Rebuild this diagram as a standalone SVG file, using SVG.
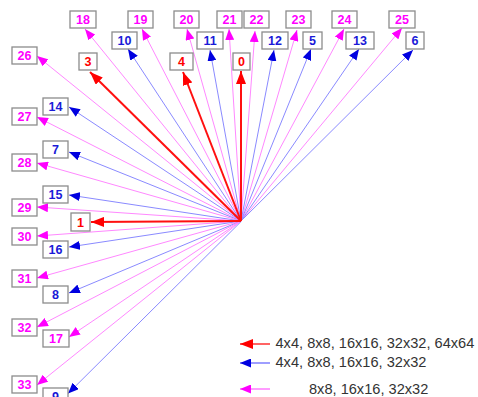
<svg xmlns="http://www.w3.org/2000/svg" width="478" height="397" viewBox="0 0 478 397">
<style>
.bx{fill:#fff;stroke:#8c8c8c;stroke-width:1.3}
.t{font-family:"Liberation Sans",Arial,sans-serif;font-size:12.5px;font-weight:bold;text-anchor:middle}
.m{fill:#ff00ff}.b{fill:#1a1ad8}.r{fill:#ff0000}
.lr{stroke:#ff1010;stroke-width:2;fill:none;marker-end:url(#ar)}
.lb{stroke:#8a8aff;stroke-width:1;fill:none;marker-end:url(#ab)}
.lm{stroke:#ff88ff;stroke-width:1;fill:none;marker-end:url(#am)}
.lg{font-family:"Liberation Sans",Arial,sans-serif;font-size:14.6px;fill:#333}
</style>
<defs>
<marker id="ar" markerUnits="userSpaceOnUse" markerWidth="13" markerHeight="10" refX="13" refY="5" orient="auto"><path d="M0,0L13,5L0,10z" fill="#ff0000"/></marker>
<marker id="ab" markerUnits="userSpaceOnUse" markerWidth="11" markerHeight="9" refX="11" refY="4.5" orient="auto"><path d="M0,0L11,4.5L0,9z" fill="#0000e0"/></marker>
<marker id="am" markerUnits="userSpaceOnUse" markerWidth="11" markerHeight="9" refX="11" refY="4.5" orient="auto"><path d="M0,0L11,4.5L0,9z" fill="#ff00ff"/></marker>
</defs>
<g id="connectors">
<line class="lm" x1="241" y1="221" x2="85" y2="29"/>
<line class="lm" x1="241" y1="221" x2="142" y2="29"/>
<line class="lm" x1="241" y1="221" x2="187" y2="29"/>
<line class="lm" x1="241" y1="221" x2="229" y2="29"/>
<line class="lm" x1="241" y1="221" x2="255" y2="31"/>
<line class="lm" x1="241" y1="221" x2="297" y2="30"/>
<line class="lm" x1="241" y1="221" x2="344" y2="29"/>
<line class="lm" x1="241" y1="221" x2="402" y2="28"/>
<line class="lb" x1="241" y1="221" x2="128" y2="49"/>
<line class="lb" x1="241" y1="221" x2="210" y2="50"/>
<line class="lb" x1="241" y1="221" x2="274" y2="50"/>
<line class="lb" x1="241" y1="221" x2="311" y2="49"/>
<line class="lb" x1="241" y1="221" x2="359" y2="49"/>
<line class="lb" x1="241" y1="221" x2="413" y2="50"/>
<line class="lm" x1="241" y1="221" x2="37" y2="56"/>
<line class="lb" x1="241" y1="221" x2="69" y2="107"/>
<line class="lm" x1="241" y1="221" x2="37" y2="117"/>
<line class="lb" x1="241" y1="221" x2="69" y2="152"/>
<line class="lm" x1="241" y1="221" x2="37" y2="163"/>
<line class="lb" x1="241" y1="221" x2="69" y2="195"/>
<line class="lm" x1="241" y1="221" x2="37" y2="207"/>
<line class="lm" x1="241" y1="221" x2="37" y2="236"/>
<line class="lb" x1="241" y1="221" x2="69" y2="247"/>
<line class="lm" x1="241" y1="221" x2="37" y2="278"/>
<line class="lb" x1="241" y1="221" x2="69" y2="293"/>
<line class="lm" x1="241" y1="221" x2="37" y2="327"/>
<line class="lm" x1="241" y1="221" x2="69" y2="337"/>
<line class="lm" x1="241" y1="221" x2="37" y2="385"/>
<line class="lb" x1="241.6" y1="221" x2="68" y2="393.6"/>
<line class="lr" x1="241" y1="221" x2="90" y2="72"/>
<line class="lr" x1="241" y1="221" x2="183" y2="72"/>
<line class="lr" x1="241" y1="221" x2="241" y2="71"/>
<line class="lr" x1="241" y1="221" x2="91" y2="222"/>
</g>
<g id="n18"><rect class="bx" x="70" y="11" width="26" height="17"/><text class="t m" x="83" y="24">18</text></g>
<g id="n19"><rect class="bx" x="128" y="11" width="25" height="17"/><text class="t m" x="140.5" y="24">19</text></g>
<g id="n20"><rect class="bx" x="174" y="11" width="25" height="17"/><text class="t m" x="186.5" y="24">20</text></g>
<g id="n21"><rect class="bx" x="217" y="11" width="25" height="17"/><text class="t m" x="229.5" y="24">21</text></g>
<g id="n22"><rect class="bx" x="244" y="11" width="25" height="17"/><text class="t m" x="256.5" y="24">22</text></g>
<g id="n23"><rect class="bx" x="286" y="11" width="25" height="17"/><text class="t m" x="298.5" y="24">23</text></g>
<g id="n24"><rect class="bx" x="332" y="11" width="25" height="17"/><text class="t m" x="344.5" y="24">24</text></g>
<g id="n25"><rect class="bx" x="389" y="11" width="26" height="17"/><text class="t m" x="402" y="24">25</text></g>
<g id="n10"><rect class="bx" x="112" y="32" width="25" height="17"/><text class="t b" x="124.5" y="45">10</text></g>
<g id="n11"><rect class="bx" x="197" y="32" width="26" height="17"/><text class="t b" x="210" y="45">11</text></g>
<g id="n12"><rect class="bx" x="262" y="32" width="26" height="17"/><text class="t b" x="275" y="45">12</text></g>
<g id="n5"><rect class="bx" x="303" y="32" width="19" height="17"/><text class="t b" x="312.5" y="45">5</text></g>
<g id="n13"><rect class="bx" x="346" y="32" width="28" height="17"/><text class="t b" x="360" y="45">13</text></g>
<g id="n6"><rect class="bx" x="406" y="32" width="18" height="17"/><text class="t b" x="415" y="45">6</text></g>
<g id="n3"><rect class="bx" x="79" y="53" width="18" height="17"/><text class="t r" x="88" y="66">3</text></g>
<g id="n4"><rect class="bx" x="170" y="53" width="23" height="17"/><text class="t r" x="181.5" y="66">4</text></g>
<g id="n0"><rect class="bx" x="233" y="53" width="17" height="17"/><text class="t r" x="241.5" y="66">0</text></g>
<g id="n26"><rect class="bx" x="12" y="47" width="25" height="17"/><text class="t m" x="24.5" y="60">26</text></g>
<g id="n14"><rect class="bx" x="43" y="98" width="25" height="17"/><text class="t b" x="55.5" y="111">14</text></g>
<g id="n27"><rect class="bx" x="12" y="108" width="25" height="17"/><text class="t m" x="24.5" y="121">27</text></g>
<g id="n7"><rect class="bx" x="43" y="141" width="25" height="17"/><text class="t b" x="55.5" y="154">7</text></g>
<g id="n28"><rect class="bx" x="12" y="154" width="25" height="17"/><text class="t m" x="24.5" y="167">28</text></g>
<g id="n15"><rect class="bx" x="43" y="186" width="25" height="17"/><text class="t b" x="55.5" y="199">15</text></g>
<g id="n29"><rect class="bx" x="12" y="199" width="25" height="17"/><text class="t m" x="24.5" y="212">29</text></g>
<g id="n1"><rect class="bx" x="71" y="213" width="19" height="18"/><text class="t r" x="80.5" y="226.5">1</text></g>
<g id="n30"><rect class="bx" x="12" y="228" width="25" height="17"/><text class="t m" x="24.5" y="241">30</text></g>
<g id="n16"><rect class="bx" x="43" y="241" width="25" height="17"/><text class="t b" x="55.5" y="254">16</text></g>
<g id="n31"><rect class="bx" x="12" y="270" width="25" height="17"/><text class="t m" x="24.5" y="283">31</text></g>
<g id="n8"><rect class="bx" x="43" y="286" width="25" height="17"/><text class="t b" x="55.5" y="299">8</text></g>
<g id="n32"><rect class="bx" x="12" y="319" width="25" height="17"/><text class="t m" x="24.5" y="332">32</text></g>
<g id="n17"><rect class="bx" x="43" y="330" width="26" height="17"/><text class="t m" x="56" y="343">17</text></g>
<g id="n33"><rect class="bx" x="12" y="376" width="25" height="17"/><text class="t m" x="24.5" y="389">33</text></g>
<g id="n9"><rect class="bx" x="43" y="388" width="25" height="17"/><text class="t b" x="55.5" y="401">9</text></g>
<g id="legend">
<line stroke="#ff1010" stroke-width="1.3" marker-end="url(#ar)" x1="270" y1="344" x2="240" y2="344"/>
<line stroke="#6a6aff" stroke-width="1.3" marker-end="url(#ab)" x1="270" y1="363" x2="240" y2="363"/>
<line stroke="#ff66ff" stroke-width="1.3" marker-end="url(#am)" x1="270" y1="389" x2="240" y2="389"/>
<text class="lg" x="275.5" y="348">4x4, 8x8, 16x16, 32x32, 64x64</text>
<text class="lg" x="275.5" y="367">4x4, 8x8, 16x16, 32x32</text>
<text class="lg" x="309" y="393.5">8x8, 16x16, 32x32</text>
</g>
</svg>
